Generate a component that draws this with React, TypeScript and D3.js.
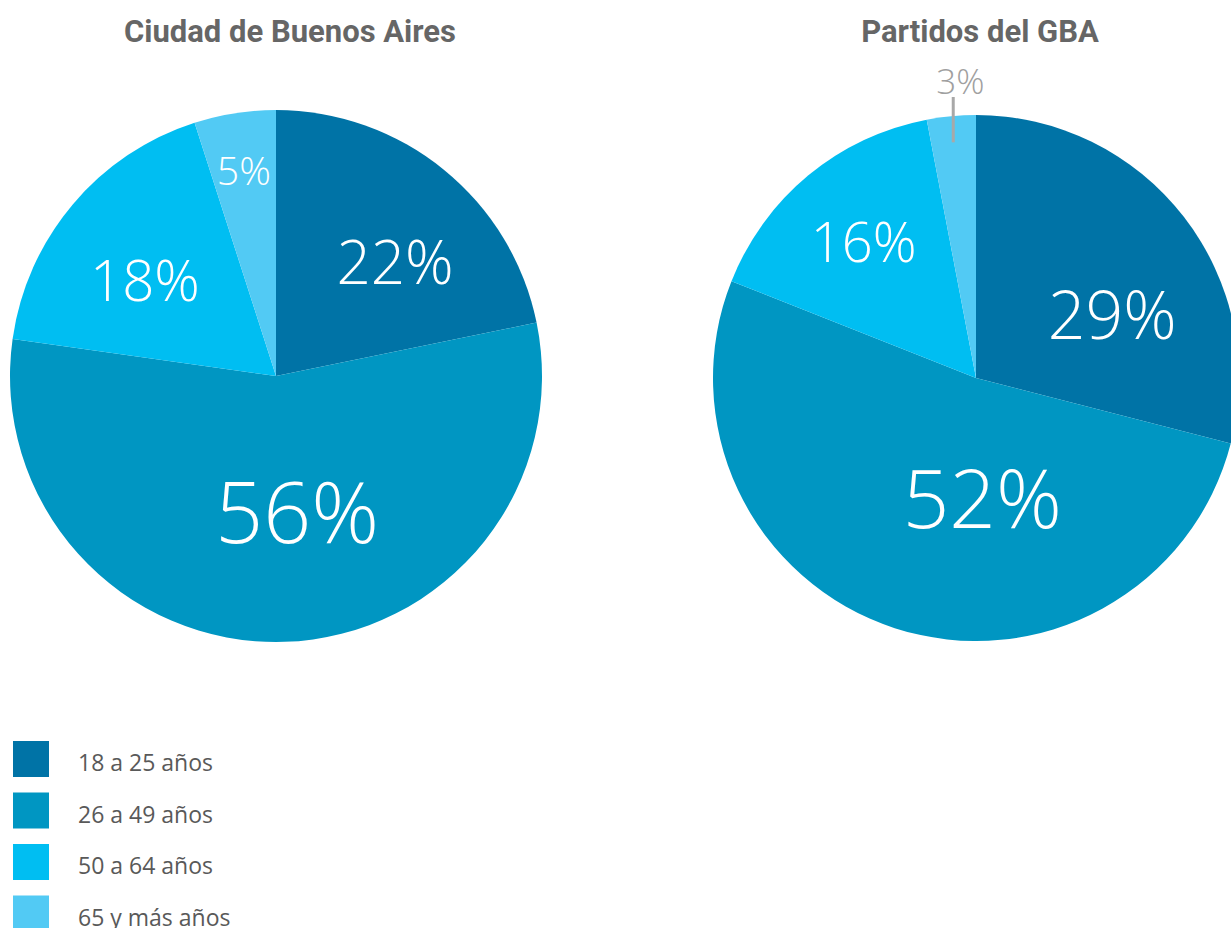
import React, { useEffect, useRef } from 'react';
import * as d3 from 'd3';

// Age groups (legend order, also slice order clockwise from 12 o'clock)
const ageGroups = ['18 a 25 años', '26 a 49 años', '50 a 64 años', '65 y más años'];
const groupColors = ['#0073a6', '#0096c2', '#00bef2', '#52caf4'];

// Shares per region (%)
const regions = ['Ciudad de Buenos Aires', 'Partidos del GBA'];
const cabaValues = [22, 56, 18, 5];
const gbaValues = [29, 52, 16, 3];

// Label placement: fraction of radius and angular nudge (degrees)
const labelPlacement = [
  [
    { frac: 0.62, nudge: 7 },
    { frac: 0.52, nudge: -7 },
    { frac: 0.61, nudge: -4 },
    { frac: 0.78, nudge: 0 },
  ],
  [
    { frac: 0.57, nudge: 13 },
    { frac: 0.46, nudge: -21 },
    { frac: 0.67, nudge: 0 },
    { frac: 1.13, nudge: 2.4, outside: true },
  ],
];

const W = 1231;
const H = 928;

const App: React.FC = () => {
  const svgRef = useRef<SVGSVGElement>(null);

  useEffect(() => {
    document.body.style.margin = '0';
    document.body.style.overflow = 'hidden';
    if (!svgRef.current) return;
    const svg = d3.select(svgRef.current);
    svg.selectAll('*').remove();

    const pies = [
      { values: cabaValues, cx: 276, cy: 376, r: 266, titleX: 290 },
      { values: gbaValues, cx: 976, cy: 378, r: 263, titleX: 980 },
    ];

    const fontScale = d3.scaleSqrt().domain([3, 56]).range([35, 84]);

    const pie = d3.pie<number>().sort(null).value(d => d);

    pies.forEach((p, pi) => {
      const g = svg.append('g').attr('transform', `translate(${p.cx},${p.cy})`);
      const arcs = pie(p.values);
      const arc = d3.arc<d3.PieArcDatum<number>>().innerRadius(0).outerRadius(p.r);

      g.selectAll('path')
        .data(arcs)
        .join('path')
        .attr('d', arc)
        .attr('fill', (_, i) => groupColors[i]);

      arcs.forEach((a, i) => {
        const pl = labelPlacement[pi][i];
        const ang = (a.startAngle + a.endAngle) / 2 + (pl.nudge * Math.PI) / 180;
        const rr = p.r * pl.frac;
        const x = Math.sin(ang) * rr;
        const y = -Math.cos(ang) * rr;
        const fs = fontScale(a.data);
        if (pl.outside) {
          const mid = (a.startAngle + a.endAngle) / 2;
          const lx = Math.sin(mid) * p.r * 0.92;
          g.append('line')
            .attr('x1', lx)
            .attr('x2', lx)
            .attr('y1', -Math.cos(mid) * p.r * 0.9)
            .attr('y2', -p.r - 18)
            .attr('stroke', '#a8a8a8')
            .attr('stroke-width', 3);
        }
        g.append('text')
          .attr('x', x)
          .attr('y', y)
          .attr('dy', '0.36em')
          .attr('text-anchor', 'middle')
          .attr('font-family', '"Open Sans", "Noto Sans", sans-serif')
          .attr('font-weight', 300)
          .attr('font-size', fs)
          .attr('fill', pl.outside ? '#a0a0a0' : '#ffffff')
          .text(`${a.data}%`);
      });

      svg.append('text')
        .attr('x', p.titleX)
        .attr('y', 42)
        .attr('text-anchor', 'middle')
        .attr('font-family', 'Roboto, "Noto Sans", sans-serif')
        .attr('font-weight', 700)
        .attr('font-size', 31)
        .attr('fill', '#666666')
        .text(regions[pi]);
    });

    // Legend
    const legend = svg.append('g').attr('transform', 'translate(13,741)');
    const step = 51.5;
    ageGroups.forEach((label, i) => {
      legend.append('rect')
        .attr('x', 0)
        .attr('y', i * step)
        .attr('width', 36)
        .attr('height', 36)
        .attr('fill', groupColors[i]);
      legend.append('text')
        .attr('x', 65)
        .attr('y', i * step + 30)
        .attr('font-family', '"Open Sans", "Noto Sans", sans-serif')
        .attr('font-size', 23)
        .attr('fill', '#595959')
        .text(label);
    });
  }, []);

  return (
    <svg
      ref={svgRef}
      width={W}
      height={H}
      style={{ position: 'absolute', left: 0, top: 0, background: '#ffffff' }}
    />
  );
};

export default App;
